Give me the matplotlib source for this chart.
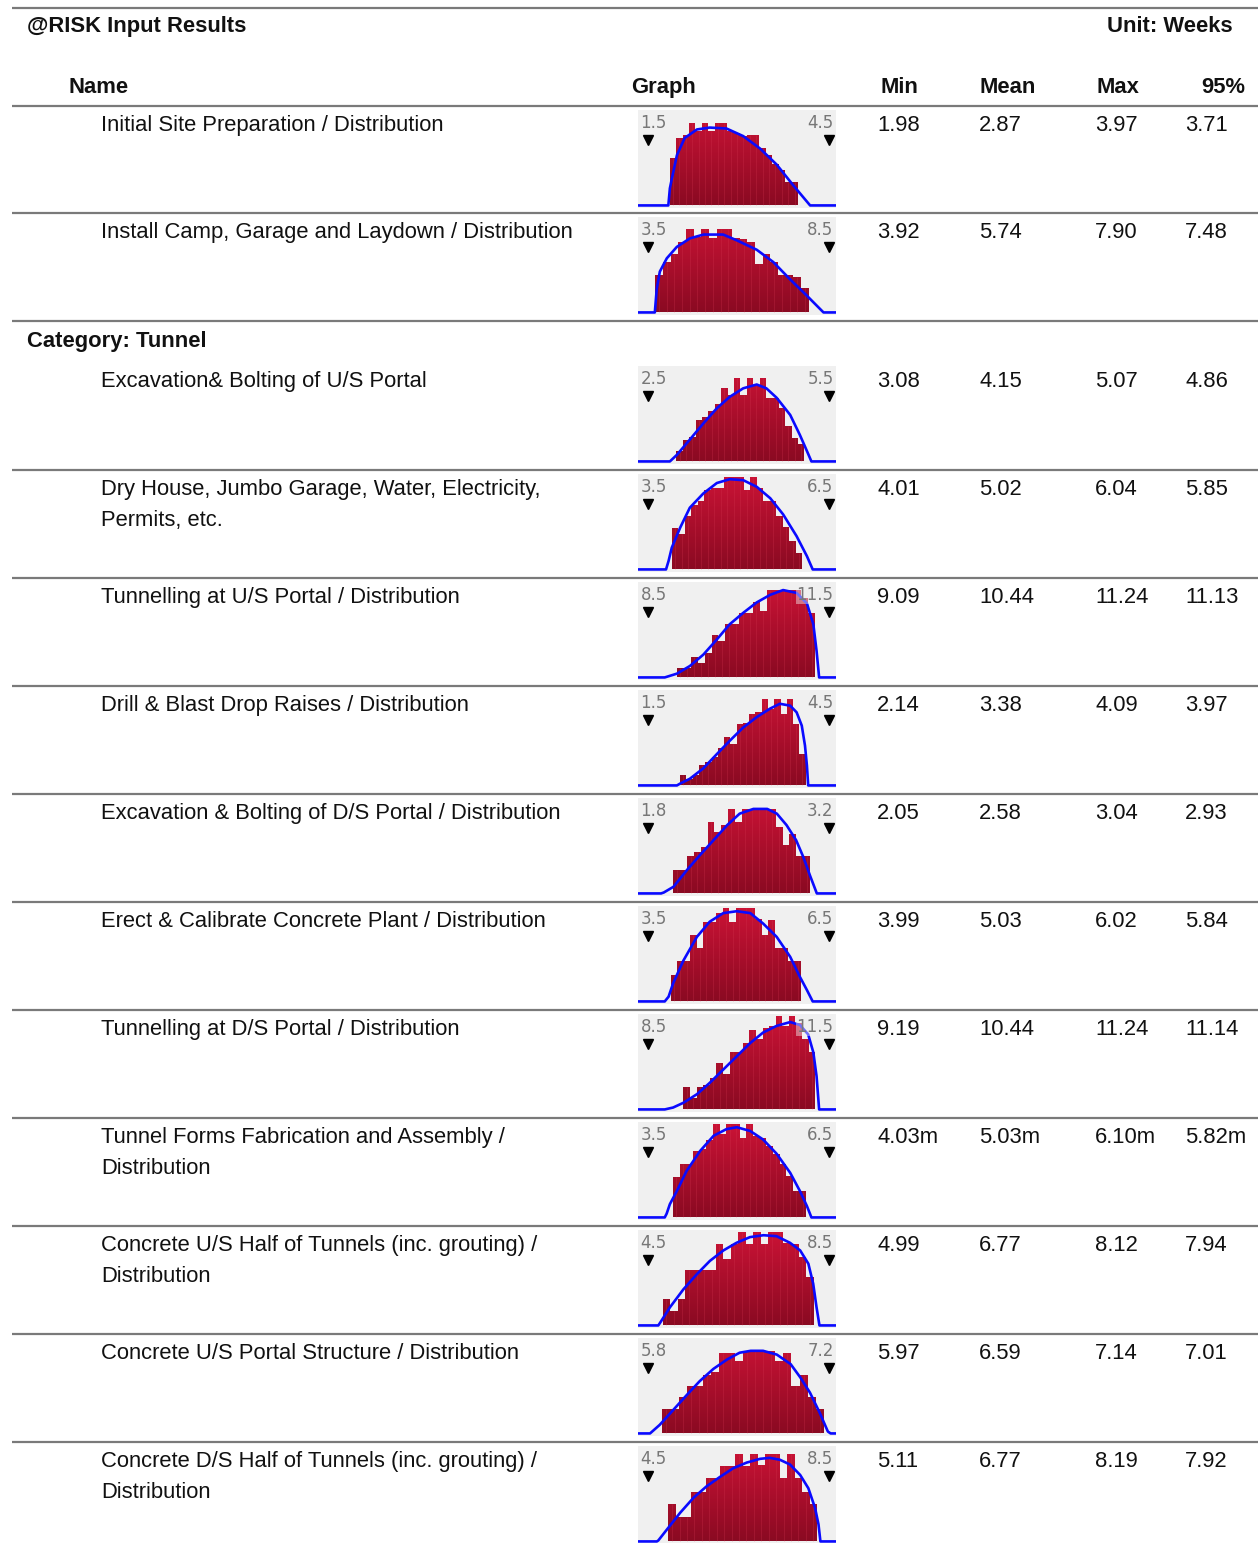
import numpy as np
import matplotlib
matplotlib.use("Agg")
import matplotlib.pyplot as plt
import matplotlib.font_manager as fm
from matplotlib.path import Path
from matplotlib.patches import PathPatch
from matplotlib.colors import LinearSegmentedColormap

# ---- table data ----
names = [
    ["Initial Site Preparation / Distribution"],
    ["Install Camp, Garage and Laydown / Distribution"],
    ["Excavation& Bolting of U/S Portal"],
    ["Dry House, Jumbo Garage, Water, Electricity,", "Permits, etc."],
    ["Tunnelling at U/S Portal / Distribution"],
    ["Drill & Blast Drop Raises / Distribution"],
    ["Excavation & Bolting of D/S Portal / Distribution"],
    ["Erect & Calibrate Concrete Plant / Distribution"],
    ["Tunnelling at D/S Portal / Distribution"],
    ["Tunnel Forms Fabrication and Assembly /", "Distribution"],
    ["Concrete U/S Half of Tunnels (inc. grouting) /", "Distribution"],
    ["Concrete U/S Portal Structure / Distribution"],
    ["Concrete D/S Half of Tunnels (inc. grouting) /", "Distribution"],
]
min_vals = ["1.98", "3.92", "3.08", "4.01", "9.09", "2.14", "2.05", "3.99", "9.19", "4.03m", "4.99", "5.97", "5.11"]
mean_vals = ["2.87", "5.74", "4.15", "5.02", "10.44", "3.38", "2.58", "5.03", "10.44", "5.03m", "6.77", "6.59", "6.77"]
max_vals = ["3.97", "7.90", "5.07", "6.04", "11.24", "4.09", "3.04", "6.02", "11.24", "6.10m", "8.12", "7.14", "8.19"]
p95_vals = ["3.71", "7.48", "4.86", "5.85", "11.13", "3.97", "2.93", "5.84", "11.14", "5.82m", "7.94", "7.01", "7.92"]

# thumbnail delimiter labels
lo_lab = [1.5, 3.5, 2.5, 3.5, 8.5, 1.5, 1.8, 3.5, 8.5, 3.5, 4.5, 5.8, 4.5]
hi_lab = [4.5, 8.5, 5.5, 6.5, 11.5, 4.5, 3.2, 6.5, 11.5, 6.5, 8.5, 7.2, 8.5]

# histogram bar heights (relative), 20 bins between min and max
bars = [
    [0.50, 0.71, 0.74, 0.87, 0.78, 0.87, 0.78, 0.87, 0.87, 0.78, 0.76, 0.73, 0.74, 0.74, 0.60, 0.53, 0.44, 0.37, 0.25, 0.25],
    [0.39, 0.53, 0.62, 0.74, 0.88, 0.79, 0.88, 0.78, 0.88, 0.88, 0.78, 0.77, 0.74, 0.51, 0.62, 0.53, 0.39, 0.39, 0.37, 0.26],
    [0.11, 0.23, 0.26, 0.44, 0.47, 0.53, 0.60, 0.77, 0.70, 0.88, 0.70, 0.88, 0.79, 0.88, 0.67, 0.67, 0.56, 0.37, 0.25, 0.18],
    [0.44, 0.37, 0.56, 0.68, 0.72, 0.84, 0.86, 0.86, 0.97, 0.97, 0.97, 0.84, 0.97, 0.86, 0.72, 0.72, 0.56, 0.45, 0.30, 0.17],
    [0.10, 0.10, 0.22, 0.15, 0.26, 0.45, 0.38, 0.56, 0.56, 0.68, 0.68, 0.79, 0.70, 0.92, 0.92, 0.92, 0.92, 0.92, 0.84, 0.68],
    [0.11, 0.07, 0.11, 0.21, 0.25, 0.30, 0.39, 0.51, 0.44, 0.65, 0.66, 0.75, 0.77, 0.91, 0.81, 0.91, 0.75, 0.91, 0.65, 0.33],
    [0.25, 0.25, 0.39, 0.44, 0.49, 0.75, 0.65, 0.72, 0.89, 0.75, 0.89, 0.89, 0.89, 0.89, 0.89, 0.70, 0.51, 0.63, 0.39, 0.39],
    [0.28, 0.43, 0.43, 0.70, 0.56, 0.84, 0.84, 0.93, 0.98, 0.84, 0.98, 0.98, 0.98, 0.87, 0.70, 0.86, 0.56, 0.56, 0.43, 0.43],
    [0.24, 0.12, 0.24, 0.26, 0.33, 0.49, 0.37, 0.61, 0.61, 0.70, 0.84, 0.74, 0.86, 0.88, 0.98, 0.88, 0.98, 0.91, 0.74, 0.61],
    [0.43, 0.56, 0.56, 0.70, 0.72, 0.82, 0.98, 0.88, 0.98, 0.98, 0.84, 0.98, 0.86, 0.84, 0.75, 0.67, 0.56, 0.44, 0.28, 0.28],
    [0.28, 0.15, 0.28, 0.58, 0.58, 0.58, 0.58, 0.86, 0.70, 0.86, 0.98, 0.86, 0.98, 0.86, 0.98, 0.98, 0.87, 0.86, 0.72, 0.51],
    [0.26, 0.26, 0.38, 0.50, 0.50, 0.62, 0.65, 0.85, 0.85, 0.76, 0.87, 0.87, 0.87, 0.87, 0.76, 0.85, 0.50, 0.62, 0.38, 0.26],
    [0.39, 0.26, 0.26, 0.52, 0.52, 0.67, 0.67, 0.79, 0.79, 0.92, 0.79, 0.92, 0.81, 0.92, 0.92, 0.67, 0.92, 0.67, 0.52, 0.39],
]

# fitted curve, points (x in weeks, y relative)
curve_x = [
    [1.956, 1.98, 2.01, 2.09, 2.21, 2.40, 2.60, 2.86, 3.12, 3.38, 3.64, 3.90, 4.16],
    [3.91, 3.96, 4.04, 4.22, 4.48, 4.82, 5.17, 5.68, 6.03, 6.55, 6.98, 7.41, 7.84, 8.28],
    [2.98, 3.09, 3.29, 3.50, 3.71, 3.91, 4.12, 4.33, 4.48, 4.64, 4.85, 5.00, 5.11, 5.18],
    [3.92, 3.96, 4.01, 4.14, 4.29, 4.50, 4.71, 4.91, 5.12, 5.33, 5.54, 5.74, 5.95, 6.11, 6.20],
    [8.90, 9.09, 9.29, 9.50, 9.71, 9.91, 10.12, 10.33, 10.54, 10.74, 10.95, 11.11, 11.21, 11.26, 11.30],
    [2.09, 2.14, 2.29, 2.50, 2.71, 2.91, 3.12, 3.33, 3.54, 3.69, 3.85, 3.95, 4.03, 4.08, 4.11, 4.13],
    [1.96, 1.98, 2.05, 2.15, 2.24, 2.34, 2.44, 2.53, 2.63, 2.73, 2.80, 2.87, 2.94, 2.99, 3.04, 3.09],
    [3.90, 3.96, 4.03, 4.19, 4.40, 4.60, 4.81, 5.02, 5.23, 5.43, 5.64, 5.85, 6.00, 6.11, 6.20],
    [8.90, 9.03, 9.19, 9.40, 9.60, 9.81, 10.02, 10.23, 10.43, 10.64, 10.85, 11.00, 11.13, 11.21, 11.26, 11.30],
    [3.90, 3.93, 3.98, 4.09, 4.24, 4.45, 4.66, 4.86, 5.02, 5.23, 5.43, 5.64, 5.85, 6.00, 6.11, 6.18],
    [4.90, 4.94, 5.14, 5.42, 5.70, 5.97, 6.25, 6.52, 6.80, 7.08, 7.35, 7.63, 7.84, 8.01, 8.11, 8.18, 8.24],
    [5.88, 5.95, 6.05, 6.15, 6.24, 6.34, 6.44, 6.53, 6.61, 6.70, 6.80, 6.90, 6.97, 7.04, 7.11, 7.17, 7.19],
    [4.87, 4.90, 5.07, 5.35, 5.63, 5.90, 6.18, 6.45, 6.73, 7.01, 7.21, 7.42, 7.63, 7.84, 8.01, 8.15, 8.22, 8.26],
]
curve_y = [
    [0, 0.18, 0.28, 0.53, 0.71, 0.80, 0.82, 0.81, 0.73, 0.60, 0.43, 0.21, 0],
    [0, 0.25, 0.43, 0.57, 0.69, 0.78, 0.82, 0.82, 0.76, 0.66, 0.53, 0.35, 0.18, 0],
    [0, 0.07, 0.23, 0.40, 0.56, 0.68, 0.77, 0.81, 0.77, 0.67, 0.49, 0.28, 0.11, 0],
    [0, 0.09, 0.23, 0.44, 0.65, 0.80, 0.91, 0.95, 0.94, 0.87, 0.75, 0.58, 0.35, 0.14, 0],
    [0, 0.04, 0.12, 0.24, 0.40, 0.56, 0.68, 0.79, 0.87, 0.92, 0.89, 0.78, 0.56, 0.28, 0],
    [0, 0.02, 0.07, 0.18, 0.33, 0.47, 0.61, 0.72, 0.81, 0.86, 0.84, 0.77, 0.63, 0.42, 0.21, 0],
    [0, 0.01, 0.07, 0.25, 0.40, 0.56, 0.72, 0.84, 0.89, 0.89, 0.84, 0.72, 0.56, 0.39, 0.19, 0],
    [0, 0.05, 0.19, 0.43, 0.68, 0.84, 0.93, 0.95, 0.93, 0.82, 0.68, 0.47, 0.26, 0.12, 0],
    [0, 0.02, 0.07, 0.16, 0.28, 0.42, 0.56, 0.70, 0.81, 0.88, 0.92, 0.89, 0.79, 0.60, 0.35, 0],
    [0, 0.04, 0.14, 0.28, 0.49, 0.70, 0.86, 0.93, 0.95, 0.91, 0.82, 0.67, 0.47, 0.28, 0.12, 0],
    [0, 0.03, 0.19, 0.38, 0.54, 0.68, 0.79, 0.87, 0.93, 0.95, 0.94, 0.87, 0.79, 0.65, 0.44, 0.19, 0],
    [0, 0.09, 0.25, 0.41, 0.55, 0.68, 0.78, 0.85, 0.87, 0.87, 0.83, 0.73, 0.59, 0.43, 0.22, 0.02, 0],
    [0, 0.01, 0.12, 0.30, 0.46, 0.58, 0.68, 0.77, 0.83, 0.87, 0.88, 0.86, 0.81, 0.70, 0.56, 0.35, 0.18, 0],
]

W, H = 1258, 1543
avail = {f.name for f in fm.fontManager.ttflist}
FONT = "Liberation Sans Narrow" if "Liberation Sans Narrow" in avail else "Liberation Sans"
FS = 18.5 if FONT == "Liberation Sans Narrow" else 15.8
plt.rcParams["font.family"] = [FONT, "DejaVu Sans"]

bar_cmap = LinearSegmentedColormap.from_list("bars", ["#8a0a22", "#cc1336"])
LINE = "#7a7a7a"
TXT = "#111111"

fig = plt.figure(figsize=(W / 100, H / 100), dpi=100)
ax = fig.add_axes([0, 0, 1, 1])
ax.set_xlim(0, W)
ax.set_ylim(H, 0)
ax.axis("off")


def hline(y):
    ax.plot([12, W], [y, y], color=LINE, lw=1.6, solid_capstyle="butt")


def txt(x, y, s, ha="left", bold=False):
    ax.text(x, y, s, fontsize=FS, fontweight="bold" if bold else "normal",
            va="baseline", ha=ha, color=TXT)


def thumb(T, i):
    x0, x1 = 638, 836
    y0, y1 = T + 4, T + 102
    tax = fig.add_axes([x0 / W, 1 - y1 / H, (x1 - x0) / W, (y1 - y0) / H])
    lo, hi = lo_lab[i], hi_lab[i]
    span = (hi - lo) / 193
    xa, xb = lo - span, lo + 197 * span
    vmin = float(min_vals[i].rstrip("m"))
    vmax = float(max_vals[i].rstrip("m"))
    edges = np.linspace(vmin, vmax, len(bars[i]) + 1)
    bc = tax.bar(edges[:-1], bars[i], width=np.diff(edges), align="edge",
                 color="#b00f2b", linewidth=0, zorder=2)
    path = Path.make_compound_path(*[b.get_path().transformed(b.get_patch_transform()) for b in bc])
    clip = PathPatch(path, transform=tax.transData, facecolor="none", edgecolor="none")
    tax.add_patch(clip)
    grad = np.linspace(0, 1, 256).reshape(-1, 1)
    im = tax.imshow(grad, extent=[vmin, vmax, 0, 1], origin="lower", aspect="auto",
                    cmap=bar_cmap, zorder=3)
    im.set_clip_path(clip)
    # faint stripes in the middle of each bar
    mids = (edges[:-1] + edges[1:]) / 2
    tax.vlines(mids, 0, bars[i], color="#d83a55", lw=0.5, alpha=0.35, zorder=4)
    tax.plot([xa] + curve_x[i] + [xb], [0] + curve_y[i] + [0], color="#0a0aff", lw=1.9, zorder=5)
    tax.set_xlim(xa, xb)
    tax.set_ylim(-0.027, 1.005)
    tax.set_facecolor("#f0f0f0")
    for s in tax.spines.values():
        s.set_visible(False)
    tax.set_xticks([])
    tax.set_yticks([])
    lab = dict(transform=tax.transAxes, va="center", fontsize=12, color="#777777",
               family="DejaVu Sans", zorder=6)
    tax.text(0.012, 0.87, f"{lo}", ha="left", **lab)
    tax.text(0.988, 0.87, f"{hi}", ha="right",
             bbox=dict(facecolor="#f0f0f0", alpha=0.45, edgecolor="none", pad=0.5), **lab)
    for xm in (0.05, 0.963):
        tax.plot(xm, 0.69, marker="v", ms=6.5, color="black", transform=tax.transAxes, zorder=7)


# header
hline(8)
txt(27, 32, "@RISK Input Results", bold=True)
txt(1233, 32, "Unit: Weeks", ha="right", bold=True)
txt(68, 93, "Name", bold=True)
txt(663, 93, "Graph", ha="center", bold=True)
txt(899, 93, "Min", ha="center", bold=True)
txt(1008, 93, "Mean", ha="center", bold=True)
txt(1118, 93, "Max", ha="center", bold=True)
txt(1245, 93, "95%", ha="right", bold=True)
hline(106)

tops = [106, 213] + [362 + 108 * k for k in range(11)]
for i, T in enumerate(tops):
    for j, line in enumerate(names[i]):
        txt(101, T + 25 + 31 * j, line)
    for xv, col in zip((877, 979, 1095, 1185), (min_vals, mean_vals, max_vals, p95_vals)):
        txt(xv, T + 25, col[i])
    thumb(T, i)
    hline(T + 107 if i == 0 else T + 108)

txt(27, 347, "Category: Tunnel", bold=True)

fig.savefig("out.png", dpi=100)
